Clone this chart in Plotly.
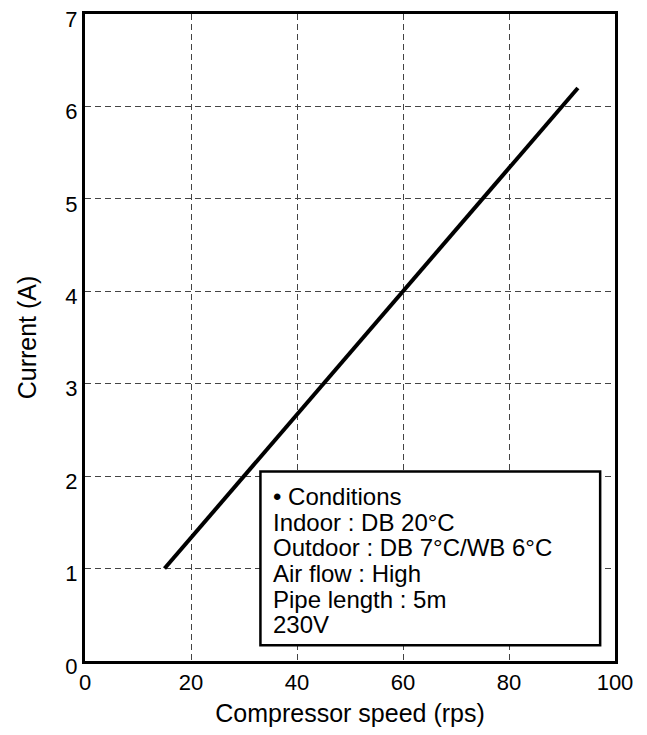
import plotly.graph_objects as go

speed = [15, 93]
current = [1.0, 6.2]

x_ticks = [0, 20, 40, 60, 80, 100]
y_ticks = [0, 1, 2, 3, 4, 5, 6, 7]

legend_lines = [
    "\u2022 Conditions",
    "Indoor : DB 20\u00b0C",
    "Outdoor : DB 7\u00b0C/WB 6\u00b0C",
    "Air flow : High",
    "Pipe length : 5m",
    "230V",
]

FONT = "Arial, Liberation Sans, sans-serif"

fig = go.Figure()
fig.add_trace(go.Scatter(x=speed, y=current, mode="lines",
                         line=dict(color="black", width=4), showlegend=False,
                         hoverinfo="skip"))

fig.add_shape(type="rect", xref="x", yref="y", x0=33.1, x1=97.2, y0=0.17, y1=2.05,
              fillcolor="white", line=dict(color="black", width=2.5), layer="above")

y_top = 1.78
step = 0.278
for i, t in enumerate(legend_lines):
    fig.add_annotation(x=35.0, y=y_top - i * step, xref="x", yref="y", text=t,
                       showarrow=False, xanchor="left", yanchor="middle",
                       font=dict(family=FONT, size=24, color="black"))

axis_common = dict(showline=True, linecolor="black", linewidth=3, mirror=True,
                   showgrid=True, gridcolor="#444444", gridwidth=1, griddash="6px,4px",
                   zeroline=False, ticks="", ticklabeloverflow="allow",
                   tickfont=dict(family=FONT, size=22, color="black"))

fig.update_xaxes(range=[0, 100], tickvals=x_ticks, ticktext=[str(v) for v in x_ticks],
                 title=dict(text="Compressor speed (rps)", font=dict(family=FONT, size=25, color="black"), standoff=11),
                 **axis_common)
fig.update_yaxes(range=[0, 7], tickvals=y_ticks, ticktext=[str(v) for v in y_ticks],
                 ticklabelshift=5,
                 title=dict(text="Current (A)", font=dict(family=FONT, size=25, color="black"), standoff=22),
                 **axis_common)

fig.update_layout(width=647, height=735,
                  margin=dict(l=77, r=40, t=6, b=82, autoexpand=False),
                  plot_bgcolor="white", paper_bgcolor="white",
                  font=dict(family=FONT, color="black"))

fig.write_html("out.html")
